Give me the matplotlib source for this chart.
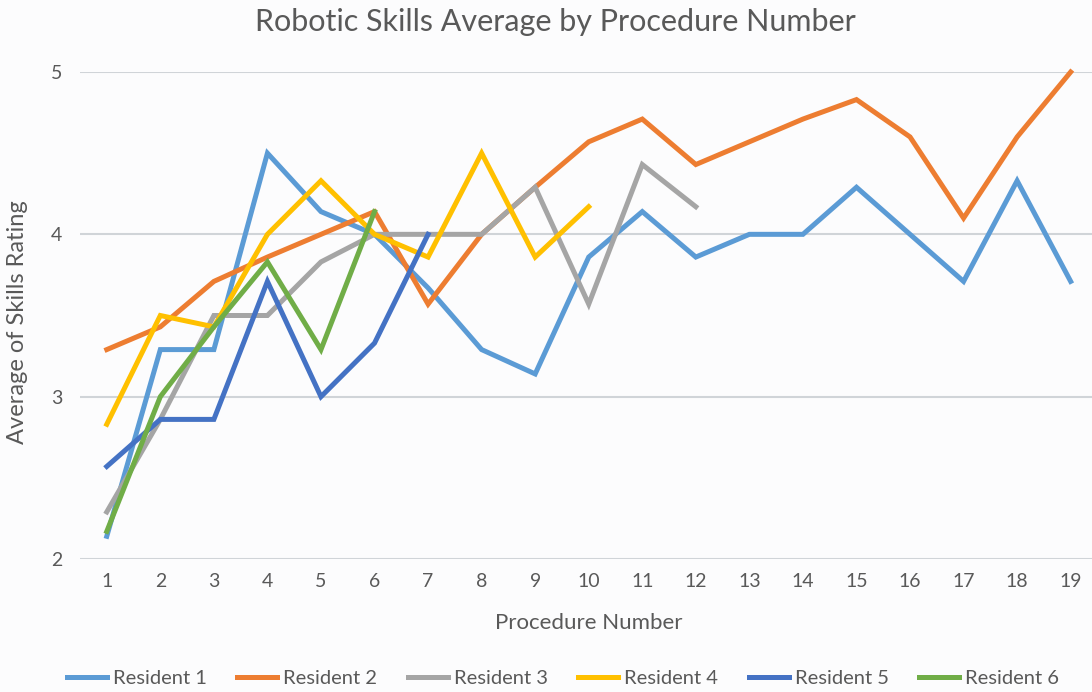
import matplotlib.pyplot as plt

procedures = list(range(1, 20))
resident_1 = [2.14, 3.29, 3.29, 4.5, 4.14, 4.0, 3.67, 3.29, 3.14, 3.86,
              4.14, 3.86, 4.0, 4.0, 4.29, 4.0, 3.71, 4.33, 3.71]
resident_2 = [3.29, 3.43, 3.71, 3.86, 4.0, 4.14, 3.57, 4.0, 4.29, 4.57,
              4.71, 4.43, 4.57, 4.71, 4.83, 4.6, 4.1, 4.6, 5.0]
resident_3 = [2.29, 2.86, 3.5, 3.5, 3.83, 4.0, 4.0, 4.0, 4.29, 3.57, 4.43, 4.17]
resident_4 = [2.83, 3.5, 3.43, 4.0, 4.33, 4.0, 3.86, 4.5, 3.86, 4.17]
resident_5 = [2.57, 2.86, 2.86, 3.71, 3.0, 3.33, 4.0]
resident_6 = [2.17, 3.0, 3.43, 3.83, 3.29, 4.14]

series = [resident_1, resident_2, resident_3, resident_4, resident_5, resident_6]
names = ["Resident 1", "Resident 2", "Resident 3", "Resident 4", "Resident 5", "Resident 6"]
colors = ["#5B9BD5", "#ED7D31", "#A5A5A5", "#FFC000", "#4472C4", "#70AD47"]

plt.rcParams['font.family'] = ['Lato', 'DejaVu Sans']
text_color = "#595959"
bg = "#fcfcfd"

fig = plt.figure(figsize=(10.92, 6.92), dpi=100, facecolor=bg)
ax = fig.add_axes([80 / 1092, 133 / 692, 1012 / 1092, 487 / 692])
ax.set_facecolor(bg)

for vals, name, col in zip(series, names, colors):
    ax.plot(procedures[:len(vals)], vals, color=col, lw=3.6, label=name,
            solid_joinstyle='miter', clip_on=False, zorder=3)

ax.set_xlim(0.5, 0.5 + 1012 / 53.55)
ax.set_ylim(2, 5)
ax.set_xticks(procedures)
ax.set_yticks([2, 3, 4, 5])
ax.grid(axis='y', color='#d0d4d8', lw=1.5)
ax.set_axisbelow(True)
for s in ax.spines.values():
    s.set_visible(False)
ax.tick_params(length=0, labelsize=14, colors=text_color, pad=10)
ax.tick_params(axis='y', pad=21)
for lbl in ax.get_yticklabels():
    lbl.set_horizontalalignment('left')

fig.text(555 / 1092, 1 - 22 / 692, "Robotic Skills Average by Procedure Number", ha='center',
         va='center', fontsize=22, color=text_color)
fig.text(589 / 1092, 1 - 623 / 692, "Procedure Number", ha='center', va='center',
         fontsize=16, color=text_color)
fig.text(18 / 1092, 1 - 322 / 692, "Average of Skills Rating", ha='center', va='center',
         rotation=90, fontsize=17, color=text_color)

fig.legend(loc='center', bbox_to_anchor=(563 / 1092, 1 - 678 / 692), ncol=6, frameon=False,
           fontsize=14.5, handlelength=2.0, handletextpad=0.3, columnspacing=1.5,
           labelcolor=text_color)

fig.savefig("out.png", dpi=100, facecolor=bg)
